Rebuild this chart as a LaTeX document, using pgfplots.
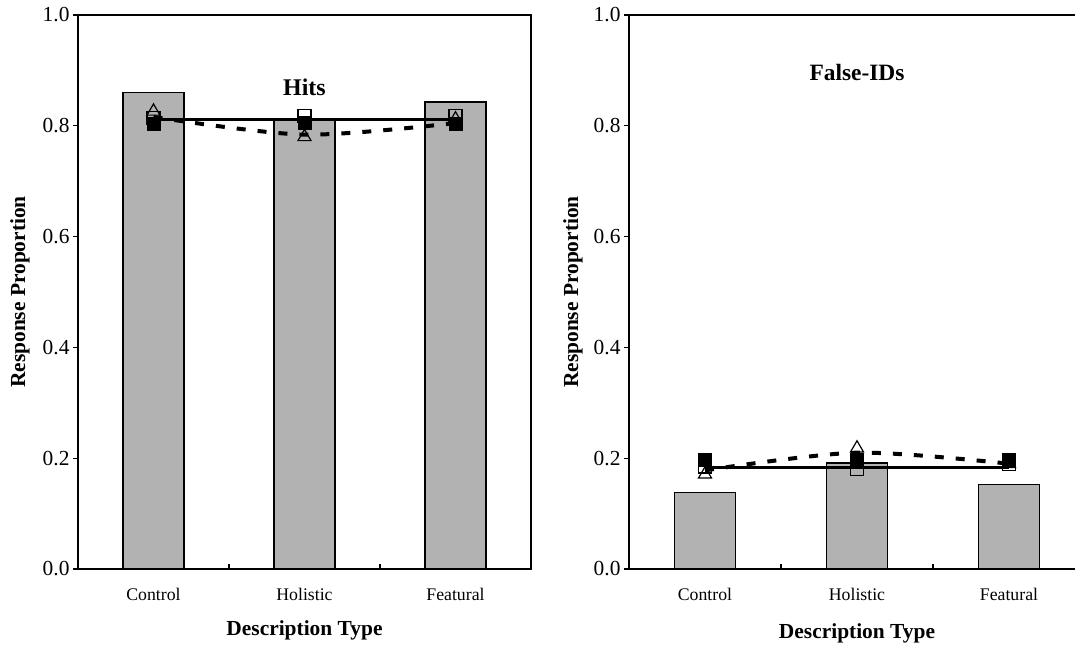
\documentclass[border=0pt]{standalone}
\usepackage{fontspec}
\setmainfont{Liberation Serif}
\usepackage{pgfplots}
\pgfplotsset{compat=1.18}
\definecolor{bargray}{gray}{0.70}

\pgfplotsset{
  panel/.style={
    scale only axis, height=554bp,
    xmin=-0.5, xmax=2.5, ymin=0, ymax=1,
    xtick={0,1,2}, xticklabels={Control,Holistic,Featural},
    x tick style={draw=none},
    ytick={0,0.2,0.4,0.6,0.8,1},
    yticklabel style={font=\fontsize{21.5}{23}\selectfont, /pgf/number format/.cd, fixed, fixed zerofill, precision=1, assume math mode=true},
    xtick pos=bottom, ytick pos=left,
    tick align=outside, major tick length=5bp,
    axis line style={line width=1.4bp},
    y tick style={line width=1.2bp, black},
    xticklabel style={font=\fontsize{17.8}{20}\selectfont, yshift=-11bp},
    xlabel={Description Type}, ylabel={Response Proportion},
    clip=false,
  },
  barplot/.style={ybar, bar width=61bp, fill=bargray, draw=black, line width=1.4bp},
  solidline/.style={black, line width=3bp, no marks},
  dashline/.style={black, line width=4bp, dash pattern=on 9bp off 12bp, smooth, no marks},
  trimark/.style={only marks, mark=triangle, mark size=7.5bp, mark options={fill=white, draw=black, line width=1.2bp, solid}},
  osqmark/.style={only marks, mark=square, mark size=6.5bp, mark options={fill=white, draw=black, line width=1.2bp, solid}},
  fsqmark/.style={only marks, mark=square*, mark size=6.5bp, mark options={fill=black, draw=black, solid}},
}

\begin{document}
\begin{tikzpicture}
% ---------- Hits ----------
\begin{axis}[panel, width=453bp, at={(0bp,0bp)}, anchor=south west,
  every axis y label/.style={at={(axis description cs:-0.128,0.5)}, rotate=90, anchor=center, font=\fontsize{21.5}{24}\selectfont\bfseries},
  every axis x label/.style={at={(axis description cs:0.5,-0.11)}, anchor=center, font=\fontsize{21.5}{24}\selectfont\bfseries}]
\addplot[barplot] coordinates {(0,0.860) (1,0.810) (2,0.843)};
\addplot[solidline] coordinates {(0,0.812) (1,0.812) (2,0.812)};
\addplot[dashline] coordinates {(0,0.816) (1,0.784) (2,0.805)};
\addplot[trimark] coordinates {(0,0.826) (1,0.780) (2,0.812)};
\addplot[osqmark] coordinates {(0,0.814) (1,0.818) (2,0.817)};
\addplot[fsqmark] coordinates {(0,0.803) (1,0.806) (2,0.804)};
\draw[line width=1.2bp] (axis cs:0.5,0) -- ([yshift=5bp]axis cs:0.5,0);
\draw[line width=1.2bp] (axis cs:1.5,0) -- ([yshift=5bp]axis cs:1.5,0);
\node[font=\fontsize{24}{26}\selectfont\bfseries] at (axis cs:1,0.87) {Hits};
\end{axis}
% ---------- False-IDs ----------
\begin{axis}[panel, width=456bp, at={(551bp,0bp)}, anchor=south west,
  every axis y label/.style={at={(axis description cs:-0.123,0.5)}, rotate=90, anchor=center, font=\fontsize{21.5}{24}\selectfont\bfseries},
  every axis x label/.style={at={(axis description cs:0.5,-0.1155)}, anchor=center, font=\fontsize{21.5}{24}\selectfont\bfseries}]
\addplot[barplot] coordinates {(0,0.138) (1,0.191) (2,0.153)};
\addplot[solidline] coordinates {(0,0.184) (1,0.184) (2,0.184)};
\addplot[dashline] coordinates {(0,0.178) (1,0.210) (2,0.190)};
\addplot[trimark] coordinates {(0,0.171) (1,0.218) (2,0.190)};
\addplot[osqmark] coordinates {(0,0.185) (1,0.181) (2,0.190)};
\addplot[fsqmark] coordinates {(0,0.197) (1,0.197) (2,0.197)};
\draw[line width=1.2bp] (axis cs:0.5,0) -- ([yshift=5bp]axis cs:0.5,0);
\draw[line width=1.2bp] (axis cs:1.5,0) -- ([yshift=5bp]axis cs:1.5,0);
\node[font=\fontsize{23.5}{26}\selectfont\bfseries] at (axis cs:1,0.897) {False-IDs};
\end{axis}
\pgfresetboundingbox
\path[use as bounding box] (-78bp,-76bp) rectangle (997bp,569bp);
\end{tikzpicture}
\end{document}
